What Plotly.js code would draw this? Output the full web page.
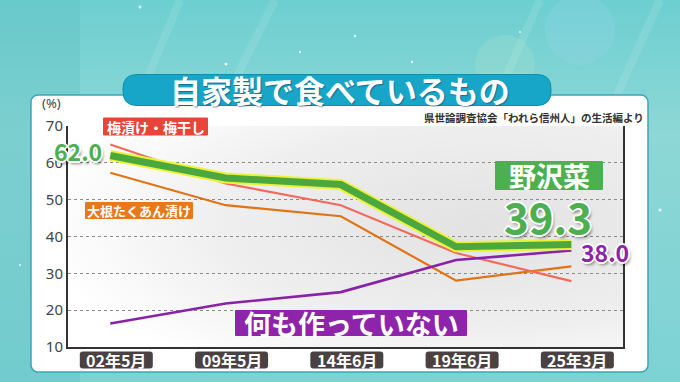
<!DOCTYPE html>
<html>
<head>
<meta charset="utf-8">
<script src="https://cdn.plot.ly/plotly-3.0.1.min.js"></script>
<style>
html,body{margin:0;padding:0;background:#7fd0d2;}
#chart{width:680px;height:382px;}
</style>
</head>
<body>
<div id="chart"></div>
<script>
// ---- data ----
var categories = ['02年5月', '09年5月', '14年6月', '19年6月', '25年3月'];
var nozawana = [62.0, 55.9, 54.1, 37.2, 37.8];
var umeboshi = [65.0, 54.4, 48.5, 35.5, 27.9];
var takuan = [57.3, 48.5, 45.5, 28.0, 31.9];
var nothing = [16.4, 21.8, 24.9, 33.6, 36.2];
var yTicks = [10, 20, 30, 40, 50, 60, 70];
var labelNozawana = '野沢菜';
var labelUme = '梅漬け・梅干し';
var labelTakuan = '大根たくあん漬け';
var labelNothing = '何も作っていない';
var valueFirst = '62.0';
var valueNozawanaLast = '39.3';
var valueNothingLast = '38.0';
var titleText = '自家製で食べているもの';
var sourceText = '県世論調査協会「われら信州人」の生活編より';

// ---- geometry helpers (page pixels -> paper) ----
var W = 680, H = 382, M = {l: 68, r: 57, t: 126, b: 35};
var PW = W - M.l - M.r, PH = H - M.t - M.b;
function px(x) { return (x - M.l) / PW; }
function py(y) { return (H - M.b - y) / PH; }
function rr(w, h, r, dx) {
  dx = dx || 0;
  var a = -w / 2 + dx, b = w / 2 + dx, c = -h / 2, d = h / 2;
  return 'M' + (a + r) + ',' + c + ' L' + (b - r) + ',' + c + ' Q' + b + ',' + c + ' ' + b + ',' + (c + r) +
    ' L' + b + ',' + (d - r) + ' Q' + b + ',' + d + ' ' + (b - r) + ',' + d +
    ' L' + (a + r) + ',' + d + ' Q' + a + ',' + d + ' ' + a + ',' + (d - r) +
    ' L' + a + ',' + (c + r) + ' Q' + a + ',' + c + ' ' + (a + r) + ',' + c + ' Z';
}
function box(cx, cy, w, h, r, fill, line, layer) {
  return {type: 'path', xref: 'paper', yref: 'paper', xsizemode: 'pixel', ysizemode: 'pixel',
    xanchor: px(cx), yanchor: py(cy), path: rr(w, h, r), fillcolor: fill,
    line: line || {width: 0}, layer: layer || 'above'};
}

// ---- background svg ----
var svg = '<svg xmlns="http://www.w3.org/2000/svg" width="680" height="382" viewBox="0 0 680 382">' +
  '<defs>' +
  '<linearGradient id="bg" x1="0" y1="0" x2="0" y2="1">' +
  '<stop offset="0" stop-color="#6dcfd0"/><stop offset="0.35" stop-color="#8dd7d6"/>' +
  '<stop offset="1" stop-color="#7dd2d4"/></linearGradient>' +
  '<radialGradient id="pl" cx="0.75" cy="0.45" r="0.8">' +
  '<stop offset="0" stop-color="#e2e2e2"/><stop offset="0.6" stop-color="#efefef"/>' +
  '<stop offset="1" stop-color="#ffffff"/></radialGradient>' +
  '</defs>' +
  '<rect width="680" height="382" fill="url(#bg)"/>' +
  '<rect x="0" y="0" width="80" height="382" fill="#5fc0c4" opacity="0.35"/>' +
  '<g stroke="#ffffff" stroke-opacity="0.10" stroke-width="8">' +
  '<line x1="180" y1="0" x2="130" y2="120"/><line x1="275" y1="0" x2="230" y2="90"/>' +
  '<line x1="540" y1="0" x2="500" y2="90"/><line x1="660" y1="0" x2="610" y2="110"/></g>' +
  '<circle cx="505" cy="65" r="30" fill="#d8f0c8" opacity="0.15"/>' +
  '<circle cx="580" cy="30" r="35" fill="#a0d8ee" opacity="0.2"/>' +
  '<g fill="#ffffff" opacity="0.8"><circle cx="140" cy="7" r="1.5"/><circle cx="355" cy="36" r="1.2"/>' +
  '<circle cx="300" cy="52" r="1.2"/><circle cx="226" cy="64" r="1.5"/><circle cx="412" cy="62" r="1.2"/>' +
  '<circle cx="520" cy="32" r="1"/><circle cx="660" cy="210" r="1.5"/><circle cx="20" cy="265" r="1"/></g>' +
  '<rect x="31" y="95" width="617" height="277" rx="7" fill="#ffffff" stroke="#3aa6b6" stroke-width="1.5"/>' +
  '<rect x="68" y="126" width="555" height="221" fill="url(#pl)"/>' +
  '</svg>';
var bgSrc = 'data:image/svg+xml;charset=utf-8,' + encodeURIComponent(svg);

var JP = '"Noto Sans CJK JP", "Noto Sans", sans-serif';
var halo = '1px 1px 0 #fff, -1px -1px 0 #fff, 1px -1px 0 #fff, -1px 1px 0 #fff, 0 2px 0 #fff, 2px 0 0 #fff, 0 -2px 0 #fff, -2px 0 0 #fff, 2px 3px 3px rgba(0,0,0,0.45)';
var haloSmall = '1px 1px 0 #fff, -1px -1px 0 #fff, 1px -1px 0 #fff, -1px 1px 0 #fff';

var xIdx = categories.map(function (c, i) { return i; });

function line(y, color, width, name) {
  return {x: xIdx, y: y, type: 'scatter', mode: 'lines', name: name,
    line: {color: color, width: width}, hoverinfo: 'skip'};
}
var traces = [
  line(takuan, '#e27314', 2.2, labelTakuan),
  line(umeboshi, '#f26a5c', 2.2, labelUme),
  line(nothing, '#8a22a8', 2.6, labelNothing),
  line(nozawana, '#ecf23a', 11, labelNozawana + ' outline'),
  line(nozawana, '#4aa83e', 7, labelNozawana)
];

var shapes = [
  box(337, 90, 428, 31, 14, '#18a6c8', {color: '#0e8fb0', width: 1}, 'below'),
  box(155.5, 126.5, 105, 18, 1, '#e8443a'),
  box(139, 210.5, 108, 17, 1, '#e8781c'),
  box(549, 175.5, 108, 29, 1, '#4caf50'),
  box(351, 323, 232, 26, 1, '#8e24aa')
];
categories.forEach(function (c, i) {
  shapes.push({type: 'path', xref: 'x', yref: 'paper', xsizemode: 'pixel', ysizemode: 'pixel',
    xanchor: i, yanchor: py(360), path: rr(73, 17, 3, 6), fillcolor: '#4a4242',
    line: {width: 0}, layer: 'above'});
});

function note(text, cx, cy, font) {
  return {text: text, xref: 'paper', yref: 'paper', x: px(cx), y: py(cy), xanchor: 'center',
    yanchor: 'middle', showarrow: false, font: font};
}
var annotations = [
  note(titleText, 340, 90, {family: JP, size: 31, color: '#ffffff', weight: 700, shadow: '1px 1px 1px rgba(0,60,90,0.5)'}),
  note(sourceText, 534, 118, {family: JP, size: 10.5, color: '#333333', weight: 700, shadow: haloSmall}),
  note('(%)', 51, 103, {family: 'Noto Sans, sans-serif', size: 13, color: '#444444'}),
  note(labelUme, 155.5, 126.5, {family: JP, size: 14, color: '#ffffff', weight: 700}),
  note(labelTakuan, 139, 210.5, {family: JP, size: 13, color: '#ffffff', weight: 700}),
  note(labelNozawana, 549, 175, {family: JP, size: 27, color: '#ffffff', weight: 700}),
  note(labelNothing, 351, 323, {family: JP, size: 27, color: '#ffffff', weight: 700}),
  note(valueFirst, 78, 151, {family: JP, size: 23, color: '#4caf50', weight: 700, shadow: halo}),
  note(valueNozawanaLast, 548, 215, {family: JP, size: 42, color: '#4caf50', weight: 700, shadow: halo}),
  note(valueNothingLast, 605, 252, {family: JP, size: 23, color: '#8e24aa', weight: 700, shadow: halo})
];
categories.forEach(function (c, i) {
  annotations.push({text: c, xref: 'x', yref: 'paper', x: i, xshift: 6, y: py(360), xanchor: 'center',
    yanchor: 'middle', showarrow: false, font: {family: JP, size: 16, color: '#ffffff', weight: 700}});
});

var layout = {
  width: W, height: H,
  margin: M,
  paper_bgcolor: 'rgba(0,0,0,0)',
  plot_bgcolor: 'rgba(0,0,0,0)',
  showlegend: false,
  xaxis: {type: 'linear', range: [-0.367, 4.448], showticklabels: false, showgrid: false,
    zeroline: false, showline: true, linecolor: '#333333', linewidth: 2, ticks: '', fixedrange: true},
  yaxis: {range: [10, 70], tickvals: yTicks, ticktext: yTicks.map(String), showgrid: true,
    gridcolor: '#8a8a8a', griddash: 'dot', gridwidth: 1, zeroline: false,
    showline: true, mirror: true, linecolor: '#333333', linewidth: 2, ticks: '',
    tickfont: {family: 'Noto Sans, sans-serif', size: 15, color: '#444444'}, fixedrange: true},
  images: [{source: bgSrc, xref: 'paper', yref: 'paper', x: -M.l / PW, y: 1 + M.t / PH,
    sizex: W / PW, sizey: H / PH, sizing: 'stretch', xanchor: 'left', yanchor: 'top', layer: 'below'}],
  shapes: shapes,
  annotations: annotations
};

Plotly.newPlot('chart', traces, layout, {displayModeBar: false, staticPlot: true});
</script>
</body>
</html>
